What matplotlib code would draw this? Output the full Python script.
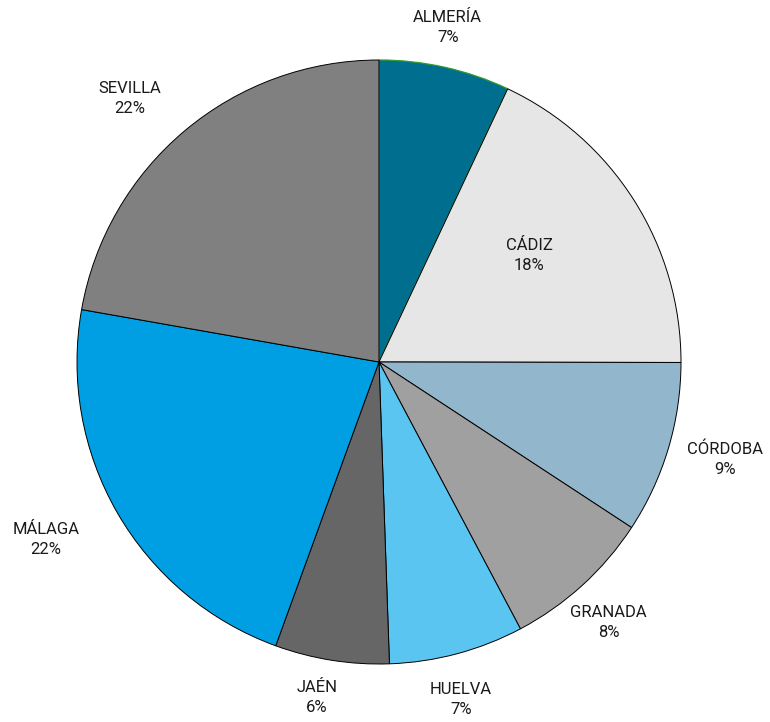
import matplotlib
matplotlib.use("Agg")
import matplotlib.pyplot as plt
import numpy as np

provinces = ["ALMERÍA", "CÁDIZ", "CÓRDOBA", "GRANADA", "HUELVA", "JAÉN", "MÁLAGA", "SEVILLA"]
values = [7.0, 18.0, 9.2, 8.0, 7.2, 6.1, 22.2, 22.2]
pct_labels = ["7%", "18%", "9%", "8%", "7%", "6%", "22%", "22%"]

colors = ["#006E8F", "#E6E6E6", "#92B6CC", "#A0A0A0", "#5BC5F2", "#666666", "#009FE3", "#808080"]
label_dist = [1.13, 0.61, 1.19, 1.15, 1.15, 1.13, 1.25, 1.20]
angle_shift = [1.0, 3.0, 1.0, -1.0, -1.3, -1.5, -2.0, 3.4]

plt.rcParams['font.family'] = ['Roboto', 'DejaVu Sans']
fig = plt.figure(figsize=(7.70, 7.22), dpi=100)
ax = fig.add_axes([0, 0, 1, 1])
wedges, _ = ax.pie(values, colors=colors, startangle=90, counterclock=False,
                   radius=1.0, wedgeprops=dict(edgecolor="black", linewidth=0.7))
wedges[0].set_edgecolor("#2E9B2E")
wedges[0].set_linewidth(0.9)

for w, name, pct, d, s in zip(wedges, provinces, pct_labels, label_dist, angle_shift):
    ang = np.deg2rad((w.theta1 + w.theta2) / 2 + s)
    ax.text(d * np.cos(ang), d * np.sin(ang), f"{name}\n{pct}", ha="center", va="center",
            fontsize=12, color="#1a1a1a", linespacing=1.45)

cx, cy, R = 379, 360, 302
ax.set_xlim(-cx / R, (770 - cx) / R)
ax.set_ylim(-cy / R, (722 - cy) / R)
ax.set_aspect("auto")
ax.axis("off")
fig.savefig("out.png", dpi=100)
